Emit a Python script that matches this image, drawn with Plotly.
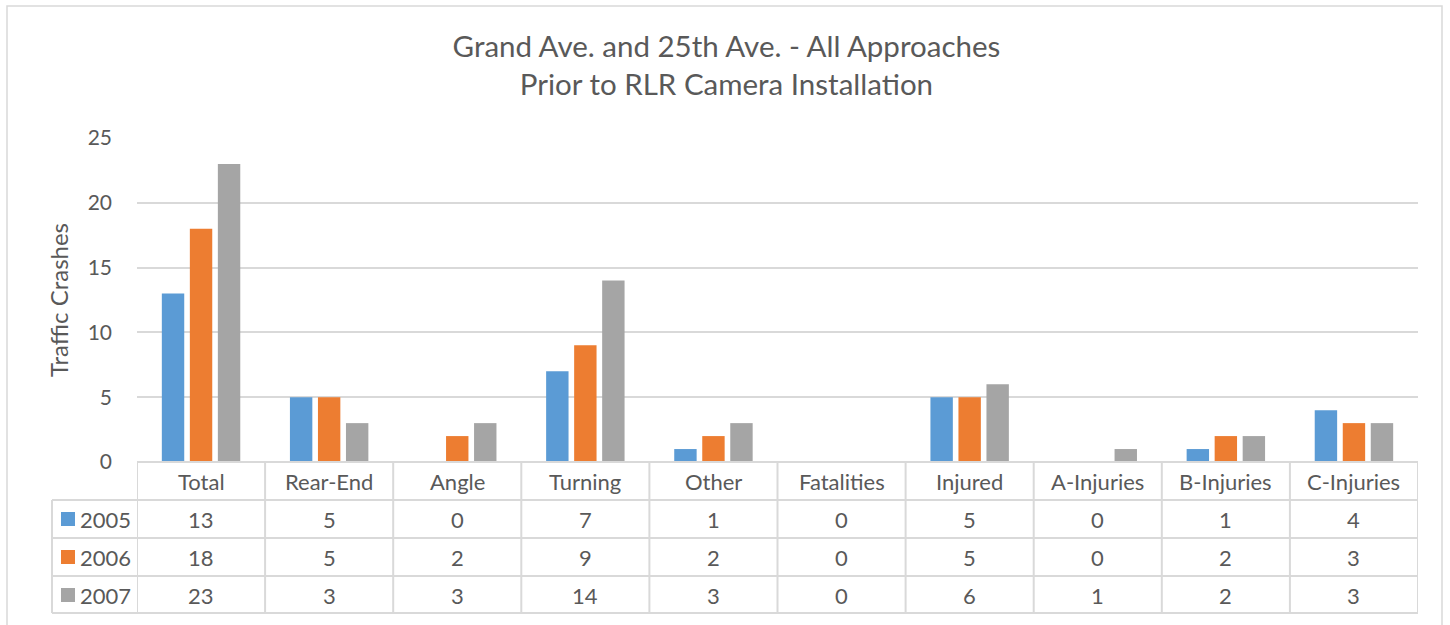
import plotly.graph_objects as go

categories = ["Total", "Rear-End", "Angle", "Turning", "Other", "Fatalities",
              "Injured", "A-Injuries", "B-Injuries", "C-Injuries"]
years = ["2005", "2006", "2007"]
v2005 = [13, 5, 0, 7, 1, 0, 5, 0, 1, 4]
v2006 = [18, 5, 2, 9, 2, 0, 5, 0, 2, 3]
v2007 = [23, 3, 3, 14, 3, 0, 6, 1, 2, 3]
series = [v2005, v2006, v2007]
colors = ["#5B9BD5", "#ED7D31", "#A5A5A5"]
y_ticks = [0, 5, 10, 15, 20, 25]

W, H = 1450, 625
L, R, T, B = 137, 1418, 138, 462
FONT = "Lato, 'Noto Sans', sans-serif"
TXT = "#595959"
LINE = "#D9D9D9"
TS = 22


def px_x(px):
    return (px - L) / (R - L)


def px_y(py):
    return (B - py) / (B - T)


fig = go.Figure()
for name, vals, col in zip(years, series, colors):
    fig.add_trace(go.Bar(x=categories, y=vals, name=name, marker_color=col,
                         marker_line_width=0, showlegend=False))

shapes = []
annotations = []

# outer chart border
shapes.append(dict(type="rect", xref="paper", yref="paper",
                   x0=px_x(7), x1=px_x(1442), y0=px_y(640), y1=px_y(6),
                   line=dict(color=LINE, width=1.5), layer="below"))

# data table lines
row_lines = [462, 500, 538, 576, 613]
n = len(categories)
for i, yl in enumerate(row_lines):
    x0 = L if i == 0 else 52
    shapes.append(dict(type="line", xref="paper", yref="paper",
                       x0=px_x(x0), x1=1, y0=px_y(yl), y1=px_y(yl),
                       line=dict(color=LINE, width=2)))
for k in range(n + 1):
    shapes.append(dict(type="line", xref="x", yref="paper",
                       x0=k - 0.5, x1=k - 0.5, y0=px_y(462), y1=px_y(613),
                       line=dict(color=LINE, width=2)))
shapes.append(dict(type="line", xref="paper", yref="paper",
                   x0=px_x(52), x1=px_x(52), y0=px_y(500), y1=px_y(613),
                   line=dict(color=LINE, width=2)))

# header row
for c in categories:
    annotations.append(dict(x=c, y=px_y(481), xref="x", yref="paper",
                            xanchor="center", yanchor="middle",
                            text=c, showarrow=False,
                            font=dict(family=FONT, size=TS, color=TXT)))
# value rows
row_centers = [519, 557, 595]
for yr, vals, col, yc in zip(years, series, colors, row_centers):
    for c, v in zip(categories, vals):
        annotations.append(dict(x=c, y=px_y(yc), xref="x", yref="paper",
                                xanchor="center", yanchor="middle",
                                text=str(v), showarrow=False,
                                font=dict(family=FONT, size=TS, color=TXT)))
    shapes.append(dict(type="rect", xref="paper", yref="paper",
                       x0=px_x(61), x1=px_x(75), y0=px_y(yc + 7), y1=px_y(yc - 7),
                       fillcolor=col, line=dict(width=0)))
    annotations.append(dict(x=px_x(78), y=px_y(yc), xref="paper", yref="paper",
                            xanchor="left", yanchor="middle", text=yr,
                            showarrow=False,
                            font=dict(family=FONT, size=TS, color=TXT)))

# y-axis title
annotations.append(dict(x=px_x(58), y=px_y(300), xref="paper", yref="paper",
                        xanchor="center", yanchor="middle",
                        text="Traffic Crashes", textangle=-90, showarrow=False,
                        font=dict(family=FONT, size=24, color=TXT)))

fig.update_layout(
    width=W, height=H,
    margin=dict(l=L, r=W - R, t=T, b=H - B, pad=0),
    paper_bgcolor="white", plot_bgcolor="white",
    title=dict(text="Grand Ave. and 25th Ave. - All Approaches<br>Prior to RLR Camera Installation",
               x=0.501, xanchor="center", y=1 - 57 / H, yanchor="middle",
               font=dict(family=FONT, size=29.5, color=TXT)),
    barmode="group", bargap=0.344, bargroupgap=0.2,
    xaxis=dict(showticklabels=False, showgrid=False, showline=False,
               zeroline=False, ticks="", range=[-0.5, n - 0.5]),
    yaxis=dict(range=[0, 25], tickvals=y_ticks, showgrid=True, gridcolor=LINE,
               gridwidth=1.5, zeroline=False, showline=False, ticks="",
               ticklabelstandoff=24,
               tickfont=dict(family=FONT, size=21, color=TXT)),
    shapes=shapes, annotations=annotations,
)

fig.write_html("out.html", config={"displayModeBar": False},
               post_script="document.body.style.margin='0';")
